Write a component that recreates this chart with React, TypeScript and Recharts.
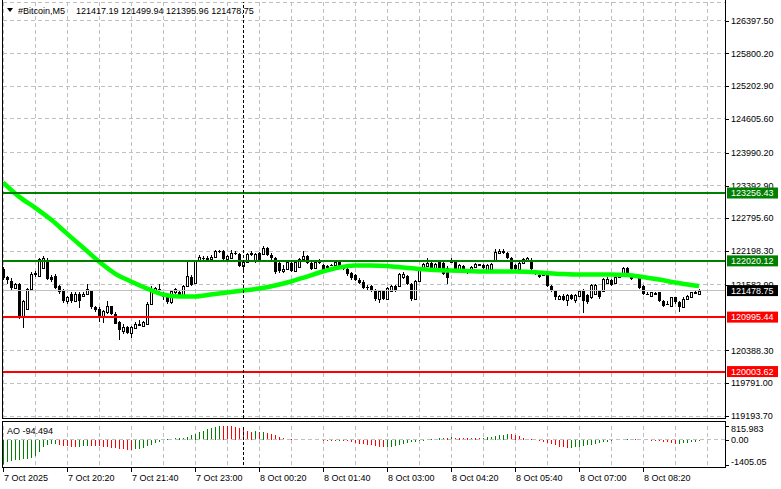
import React from 'react';
import { ComposedChart, Bar, Line, XAxis, YAxis, CartesianGrid, ReferenceLine } from 'recharts';

const FONT = '"Liberation Sans", Arial, sans-serif';

// ---- title ----
const symbolTitle = '#Bitcoin,M5';
const lastQuote = ['121417.19', '121499.94', '121395.96', '121478.75'];
const aoTitle = 'AO -94.494';

// ---- time axis (one bar = 5 min, first bar 7 Oct 19:00) ----
const timeTickBars = [0, 16, 32, 48, 64, 80, 96, 112, 128, 144, 160];
const timeTickLabels = ['7 Oct 2025', '7 Oct 20:20', '7 Oct 21:40', '7 Oct 23:00', '8 Oct 00:20', '8 Oct 01:40', '8 Oct 03:00', '8 Oct 04:20', '8 Oct 05:40', '8 Oct 07:00', '8 Oct 08:20'];
const gridBars = [0, 8, 16, 24, 32, 40, 48, 56, 64, 72, 80, 88, 96, 104, 112, 120, 128, 136, 144, 152, 160, 168, 176];
const daySeparatorBar = 60;
const xDomain = [0, 180.5];

// ---- price axis ----
const priceDomain = [119157.3, 126736.8];
const priceTicks = [126397.5, 125800.2, 125202.9, 124605.6, 123990.2, 123392.9, 122795.6, 122198.3, 121582.9, 120388.3, 119791.0, 119193.7];
const levelPrices = [123256.43, 122020.12, 121478.75, 120995.44, 120003.62];
const levelColors = ['#008000', '#008000', '#000000', '#ff0000', '#ff0000'];

// ---- OHLC ----
const opens = [
  121880, 121735, 121662, 121535, 121607, 120989, 121152, 121516, 121789, 121753,
  121899, 122044, 121735, 121753, 121571, 121480, 121298, 121425, 121298, 121425,
  121389, 121425, 121480, 121171, 121152, 120989, 121080, 121189, 121061, 120898,
  120734, 120807, 120697, 120788, 120843, 120825, 120879, 121243, 121498, 121516,
  121407, 121353, 121262, 121444, 121462, 121389, 121571, 121735, 121626, 122026,
  122081, 122062, 122062, 122099, 122208, 122208, 122062, 122081, 122172, 122153,
  121935, 122008, 122153, 122026, 122172, 122153, 122263, 122135, 122081, 121990,
  121844, 121880, 121990, 121844, 121917, 122062, 122117, 121990, 121899, 122008,
  121953, 121917, 121953, 121953, 122008, 121935, 121880, 121808, 121771, 121680,
  121644, 121553, 121571, 121480, 121334, 121480, 121334, 121480, 121571, 121571,
  121735, 121753, 121607, 121334, 121662, 121880, 121935, 121990, 121899, 122008,
  121990, 121899, 122008, 122008, 121880, 121935, 121862, 121880, 121917, 121953,
  121953, 121862, 121880, 122044, 122172, 122208, 122172, 122081, 121953, 121880,
  121990, 122044, 122044, 121826, 121771, 121771, 121771, 121571, 121480, 121334,
  121389, 121316, 121407, 121316, 121389, 121480, 121407, 121353, 121425, 121480,
  121480, 121626, 121680, 121626, 121735, 121789, 121899, 121753, 121753, 121717,
  121571, 121425, 121389, 121425, 121444, 121298, 121243, 121207, 121353, 121262,
  121171, 121334, 121371, 121444, 121417.19,
];
const highs = [
  121917, 121753, 121717, 121626, 121626, 121316, 121535, 121826, 121844, 122081,
  122117, 122081, 121771, 121789, 121589, 121516, 121389, 121444, 121444, 121444,
  121444, 121607, 121498, 121189, 121171, 121116, 121298, 121207, 121080, 120916,
  120879, 120825, 120825, 120898, 120934, 120916, 121262, 121571, 121553, 121607,
  121462, 121371, 121498, 121535, 121480, 121589, 122026, 121771, 122044, 122135,
  122117, 122117, 122135, 122226, 122226, 122226, 122135, 122226, 122208, 122172,
  122044, 122172, 122208, 122172, 122190, 122299, 122281, 122172, 122099, 122026,
  121953, 122026, 122026, 122044, 122081, 122208, 122135, 122008, 122026, 122062,
  121971, 121953, 121971, 122044, 122026, 121953, 121917, 121826, 121789, 121717,
  121680, 121589, 121589, 121516, 121498, 121498, 121553, 121589, 121589, 121808,
  121826, 121771, 121626, 121680, 121899, 121990, 122081, 122008, 121990, 122026,
  122026, 121935, 122081, 122044, 121971, 121953, 121880, 121935, 121990, 121971,
  121971, 121971, 121990, 122244, 122244, 122244, 122190, 122099, 121971, 122008,
  122081, 122099, 122081, 121844, 121789, 121789, 121789, 121589, 121498, 121407,
  121425, 121425, 121425, 121425, 121498, 121516, 121425, 121607, 121607, 121498,
  121717, 121735, 121698, 121753, 121808, 121917, 121917, 121771, 121771, 121735,
  121589, 121444, 121462, 121444, 121462, 121316, 121280, 121371, 121371, 121280,
  121353, 121407, 121462, 121498, 121499.94,
];
const lows = [
  121680, 121607, 121480, 121516, 120970, 120807, 121134, 121498, 121735, 121735,
  121880, 121680, 121644, 121516, 121425, 121262, 121243, 121243, 121280, 121152,
  121371, 121407, 121152, 121080, 120898, 120879, 121061, 121043, 120861, 120570,
  120697, 120679, 120606, 120770, 120825, 120807, 120861, 121225, 121444, 121444,
  121316, 121243, 121243, 121425, 121371, 121371, 121553, 121571, 121607, 122008,
  122026, 122044, 122044, 122081, 122172, 122044, 122044, 122062, 122135, 121917,
  121808, 121990, 122117, 121990, 122026, 122135, 122117, 122044, 121789, 121808,
  121808, 121862, 121826, 121826, 121899, 122044, 121971, 121862, 121880, 121971,
  121826, 121899, 121935, 121935, 121917, 121862, 121753, 121680, 121662, 121607,
  121516, 121498, 121462, 121298, 121262, 121316, 121316, 121462, 121462, 121553,
  121698, 121589, 121298, 121316, 121644, 121862, 121917, 121880, 121880, 121844,
  121771, 121607, 121990, 121862, 121862, 121844, 121789, 121862, 121899, 121935,
  121880, 121844, 121862, 122026, 122153, 122153, 122062, 121862, 121844, 121862,
  121971, 122026, 121862, 121771, 121717, 121753, 121553, 121462, 121316, 121316,
  121298, 121207, 121316, 121262, 121371, 121080, 121243, 121334, 121407, 121334,
  121462, 121607, 121571, 121607, 121717, 121771, 121771, 121680, 121717, 121516,
  121407, 121389, 121371, 121407, 121280, 121189, 121207, 121189, 121243, 121080,
  121152, 121316, 121353, 121425, 121395.96,
];
const closes = [
  121717, 121680, 121535, 121607, 120989, 121298, 121516, 121789, 121808, 122062,
  122081, 121698, 121680, 121535, 121462, 121298, 121371, 121298, 121425, 121298,
  121425, 121516, 121171, 121116, 120989, 121098, 121189, 121061, 120879, 120752,
  120807, 120697, 120807, 120879, 120879, 120898, 121243, 121516, 121535, 121480,
  121353, 121262, 121480, 121516, 121389, 121571, 121753, 121589, 122026, 122099,
  122062, 122081, 122099, 122208, 122190, 122062, 122117, 122172, 122153, 121935,
  122008, 122153, 122172, 122153, 122044, 122263, 122135, 122081, 121826, 121844,
  121880, 122008, 121844, 122008, 122062, 122117, 121990, 121880, 122008, 122026,
  121844, 121935, 121950, 122008, 121935, 121880, 121789, 121717, 121680, 121626,
  121535, 121535, 121480, 121334, 121480, 121334, 121535, 121571, 121480, 121789,
  121789, 121607, 121334, 121662, 121880, 121971, 121990, 121899, 121971, 121880,
  121789, 121717, 122026, 121880, 121953, 121862, 121860, 121917, 121971, 121955,
  121899, 121953, 121971, 122190, 122208, 122172, 122081, 121880, 121880, 121990,
  122062, 122081, 121880, 121808, 121735, 121765, 121571, 121480, 121353, 121389,
  121316, 121407, 121334, 121407, 121480, 121298, 121262, 121589, 121589, 121353,
  121698, 121698, 121589, 121735, 121789, 121899, 121789, 121698, 121735, 121535,
  121425, 121420, 121444, 121430, 121298, 121207, 121238, 121353, 121262, 121171,
  121334, 121389, 121444, 121447, 121478.75,
];

// ---- moving average (read every 4th bar) ----
const maBars = [0, 4, 8, 12, 16, 20, 24, 28, 32, 36, 40, 44, 48, 52, 56, 60, 64, 68, 72, 76, 80, 84, 88, 92, 96, 100, 104, 108, 112, 116, 120, 124, 128, 132, 136, 140, 144, 148, 152, 156, 160, 164, 168, 172, 174];
const maValues = [
  123451, 123191, 122991, 122772, 122517, 122263, 122008, 121789, 121644, 121516,
  121407, 121371, 121371, 121407, 121444, 121480, 121516, 121571, 121644, 121735,
  121826, 121899, 121935, 121935, 121926, 121899, 121871, 121853, 121844, 121835,
  121826, 121826, 121826, 121817, 121799, 121780, 121771, 121771, 121771, 121762,
  121726, 121680, 121626, 121580, 121562,
];

// ---- Awesome Oscillator ----
const aoDomain = [-1405.05, 815.983];
const aoTicks = [815.983, 0, -1405.05];
const aoTickLabels = ['815.983', '0.00', '-1405.05'];
const aoValues = [
  -1405.05, -1260, -1200, -1160, -1130, -1100, -1070, -1010, -940, -690,
  -400, -305, -265, -260, -290, -330, -370, -390, -400, -380,
  -350, -330, -340, -350, -370, -390, -410, -440, -470, -510,
  -540, -570, -590, -550, -500, -440, -370, -290, -200, -100,
  -10, 40, 60, 80, 100, 130, 180, 260, 350, 440,
  520, 600, 680, 750, 815.983, 800, 790, 760, 720, 660,
  590, 520, 470, 480, 440, 450, 400, 330, 250, 170,
  100, 50, 20, 10, 5, 8, 4, -3, -5, -10,
  -40, -50, -45, -60, -55, -70, -90, -130, -170, -210,
  -250, -290, -320, -360, -390, -410, -400, -380, -340, -300,
  -250, -200, -150, -110, -70, -40, -10, 30, 60, 110,
  130, 120, 140, 130, 125, 120, 110, 115, 110, 105,
  120, 150, 170, 220, 260, 300, 350, 340, 270, 190,
  120, 60, 20, -20, -80, -140, -200, -260, -320, -380,
  -430, -460, -440, -420, -390, -360, -320, -280, -240, -190,
  -140, -100, -60, -30, -10, 10, 20, 30, 25, 15,
  -10, -30, -50, -60, -80, -110, -150, -200, -230, -220,
  -200, -170, -140, -115, -94.494,
];

const data = opens.map((o, i) => {
  const mi = maBars.indexOf(i);
  return {
    i,
    o,
    h: highs[i],
    l: lows[i],
    c: closes[i],
    range: [lows[i], highs[i]],
    ma: mi >= 0 ? maValues[mi] : null,
    ao: aoValues[i],
    aoUp: i === 0 ? true : aoValues[i] >= aoValues[i - 1],
  };
});

const Candle = (props: any) => {
  const { x, width, payload } = props;
  let { y, height } = props;
  if (height < 0) { y += height; height = -height; }
  const { o, h, l, c } = payload;
  const cx = Math.round(x + width / 2);
  const k = h - l > 0 ? height / (h - l) : 0;
  const yO = y + (h - o) * k;
  const yC = y + (h - c) * k;
  const top = Math.round(Math.min(yO, yC));
  const bot = Math.round(Math.max(yO, yC));
  const bull = c > o;
  return (
    <g shapeRendering="crispEdges">
      <rect x={cx} y={Math.round(y)} width={1} height={Math.max(Math.round(height), 1)} fill="#000" />
      {bull ? (
        <rect x={cx - 0.5} y={top + 0.5} width={2} height={Math.max(bot - top, 1)} fill="#fff" stroke="#000" strokeWidth={1} />
      ) : (
        <rect x={cx - 1} y={top} width={3} height={Math.max(bot - top, 1)} fill="#000" />
      )}
    </g>
  );
};

const AoBar = (props: any) => {
  const { x, width, payload } = props;
  let { y, height } = props;
  if (height < 0) { y += height; height = -height; }
  const cx = Math.round(x + width / 2);
  return <rect x={cx} y={y} width={1} height={Math.max(height, 0.01)} fill={payload.aoUp ? '#008000' : '#ff0000'} shapeRendering="crispEdges" />;
};

const PriceTick = (props: any) => {
  const { y, payload } = props;
  const v = payload.value;
  const li = levelPrices.indexOf(v);
  if (li >= 0) {
    return (
      <g>
        <rect x={727} y={y - 5.5} width={51} height={11} fill={levelColors[li]} />
        <text x={731} y={y} dy="0.35em" fill="#fff" fontSize={9} fontFamily={FONT}>{v.toFixed(2)}</text>
      </g>
    );
  }
  return (
    <g>
      <line x1={725} x2={729} y1={Math.round(y) + 0.5} y2={Math.round(y) + 0.5} stroke="#000" />
      <text x={731} y={y} dy="0.35em" fill="#000" fontSize={9} fontFamily={FONT}>{v.toFixed(2)}</text>
    </g>
  );
};

const AoTick = (props: any) => {
  const { y, payload } = props;
  const idx = aoTicks.indexOf(payload.value);
  const shift = idx === 0 ? 3 : idx === 2 ? -3 : 0;
  return (
    <g>
      <line x1={725} x2={729} y1={Math.round(y) + 0.5} y2={Math.round(y) + 0.5} stroke="#000" />
      <text x={731} y={y + shift} dy="0.35em" fill="#000" fontSize={9} fontFamily={FONT}>{aoTickLabels[idx]}</text>
    </g>
  );
};

const TimeTick = (props: any) => {
  const { x, payload } = props;
  const idx = timeTickBars.indexOf(payload.value);
  if (idx < 0) return <g />;
  const px = Math.round(x) + 0.5;
  return (
    <g>
      <line x1={px} x2={px} y1={467} y2={472} stroke="#000" />
      <text x={x + 1} y={481} fill="#000" fontSize={9} fontFamily={FONT}>{timeTickLabels[idx]}</text>
    </g>
  );
};

export default function App() {
  return (
    <div style={{ position: 'absolute', left: 0, top: 0, width: 781, height: 489, background: '#fff', overflow: 'hidden' }}>
      <style>{`.recharts-cartesian-grid line, .recharts-reference-line line { shape-rendering: crispEdges; }`}</style>
      <div style={{ position: 'absolute', left: 0, top: 0 }}>
        <ComposedChart width={781} height={420} data={data} margin={{ top: 2, right: 0, bottom: 2, left: 3 }}>
          <CartesianGrid stroke="#c0c0c0" strokeDasharray="4 3" />
          <XAxis type="number" dataKey="i" domain={xDomain} allowDataOverflow ticks={gridBars} interval={0} hide />
          <YAxis
            orientation="right"
            width={56}
            type="number"
            domain={priceDomain}
            allowDataOverflow
            ticks={[...priceTicks, ...levelPrices]}
            interval={0}
            axisLine={false}
            tickLine={false}
            tick={<PriceTick />}
          />
          <ReferenceLine y={levelPrices[2]} stroke="#c0c0c0" strokeWidth={1} />
          <Bar dataKey="range" shape={<Candle />} barSize={3} isAnimationActive={false} />
          <Line dataKey="ma" type="monotone" stroke="#00ff00" strokeWidth={4.5} dot={false} activeDot={false} connectNulls isAnimationActive={false} />
          <ReferenceLine y={levelPrices[0]} stroke={levelColors[0]} strokeWidth={2} />
          <ReferenceLine y={levelPrices[1]} stroke={levelColors[1]} strokeWidth={2} />
          <ReferenceLine y={levelPrices[3]} stroke={levelColors[3]} strokeWidth={2} />
          <ReferenceLine y={levelPrices[4]} stroke={levelColors[4]} strokeWidth={2} />
          <ReferenceLine x={daySeparatorBar} stroke="#000" strokeDasharray="3 2" />
        </ComposedChart>
      </div>
      <div style={{ position: 'absolute', left: 0, top: 0 }}>
        <ComposedChart width={781} height={489} data={data} margin={{ top: 425.5, right: 0, bottom: 0, left: 3 }}>
          <CartesianGrid horizontal={false} stroke="#c0c0c0" strokeDasharray="4 3" />
          <XAxis type="number" dataKey="i" domain={xDomain} allowDataOverflow ticks={gridBars} interval={0} height={24.5} axisLine={false} tickLine={false} tick={<TimeTick />} />
          <YAxis orientation="right" width={56} type="number" domain={aoDomain} allowDataOverflow ticks={aoTicks} interval={0} axisLine={false} tickLine={false} tick={<AoTick />} />
          <ReferenceLine y={0} stroke="#c0c0c0" strokeDasharray="4 3" />
          <Bar dataKey="ao" shape={<AoBar />} barSize={1} isAnimationActive={false} />
          <ReferenceLine x={daySeparatorBar} stroke="#000" strokeDasharray="3 2" />
        </ComposedChart>
      </div>
      <svg width={781} height={489} style={{ position: 'absolute', left: 0, top: 0, pointerEvents: 'none' }} shapeRendering="crispEdges">
        <line x1={2.5} x2={2.5} y1={0} y2={419} stroke="#000" />
        <line x1={2.5} x2={726} y1={418.5} y2={418.5} stroke="#000" />
        <line x1={725.5} x2={725.5} y1={0} y2={419} stroke="#000" />
        <line x1={2.5} x2={2.5} y1={421} y2={468} stroke="#000" />
        <line x1={2.5} x2={726} y1={421.5} y2={421.5} stroke="#000" />
        <line x1={2.5} x2={726} y1={467.5} y2={467.5} stroke="#000" />
        <line x1={725.5} x2={725.5} y1={421} y2={468} stroke="#000" />
        <polygon points="7,8 13,8 10,12" fill="#000" shapeRendering="auto" />
        <text x={18} y={13.5} fontSize={9} fontFamily={FONT} fill="#000">{symbolTitle}</text>
        <text x={76} y={13.5} fontSize={9} fontFamily={FONT} fill="#000">{lastQuote.join(' ')}</text>
        <text x={7} y={433.5} fontSize={9} fontFamily={FONT} fill="#000">{aoTitle}</text>
      </svg>
    </div>
  );
}
